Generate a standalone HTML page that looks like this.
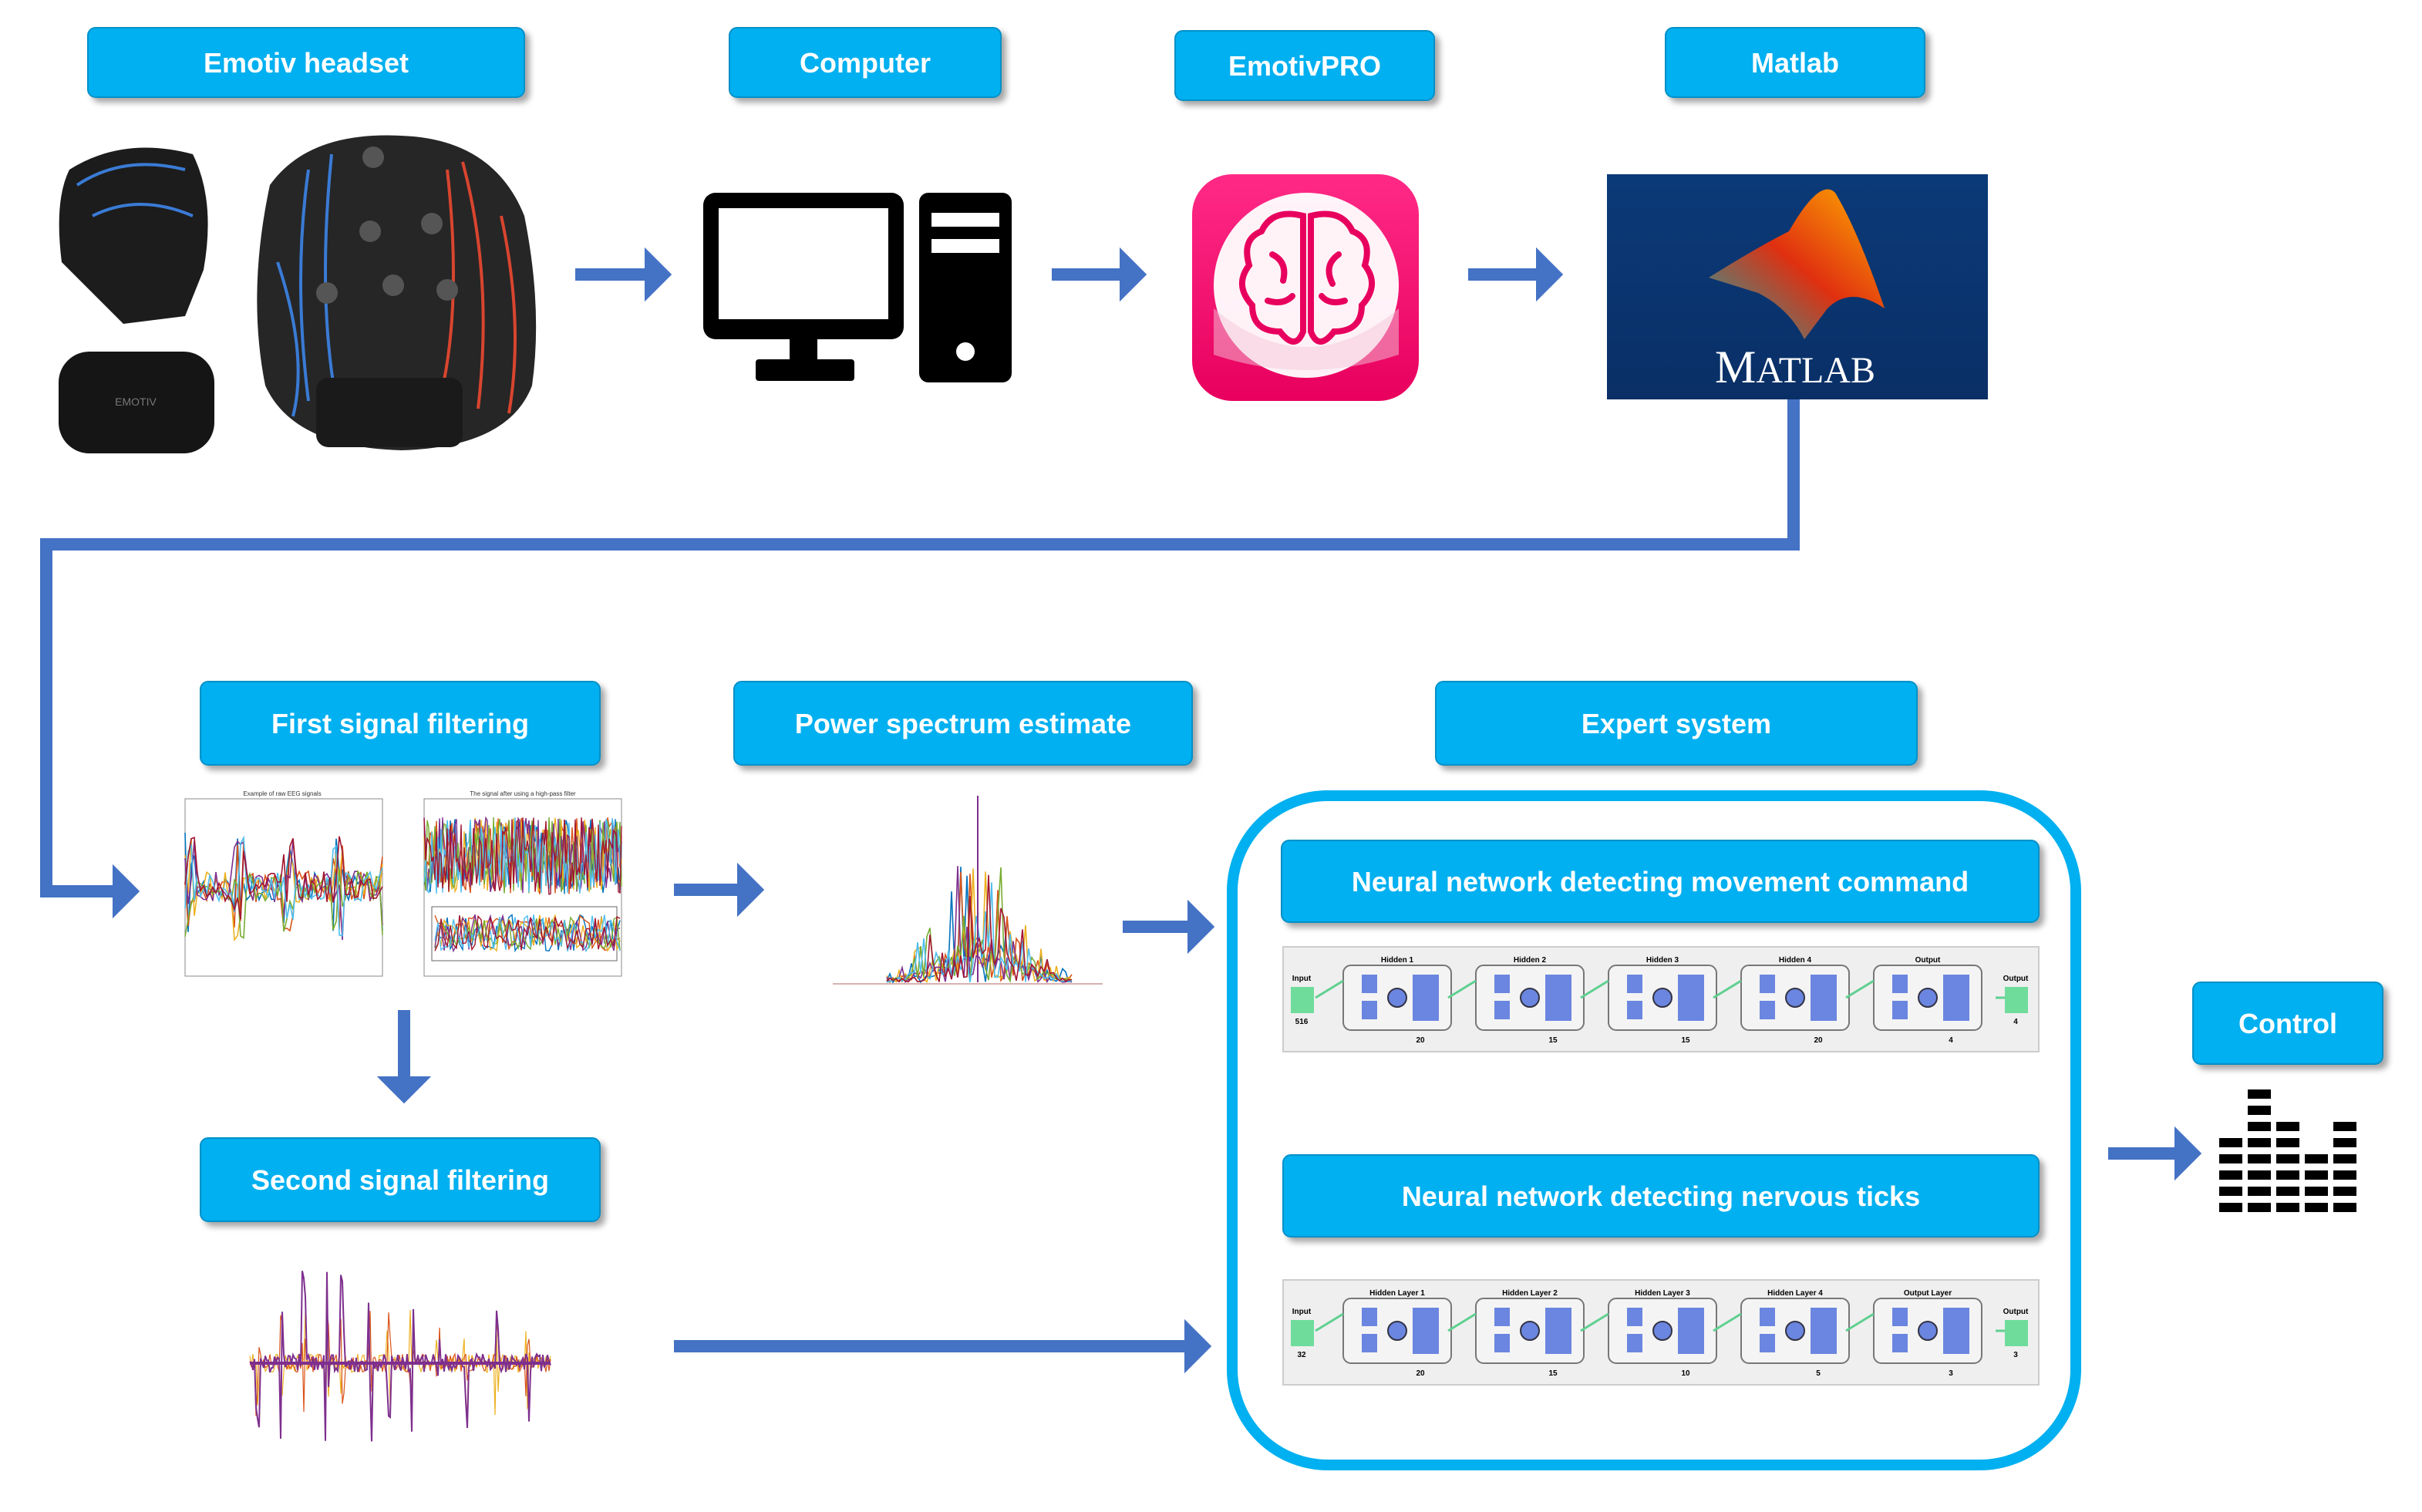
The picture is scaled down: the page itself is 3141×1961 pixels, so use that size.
<!DOCTYPE html>
<html><head><meta charset="utf-8"><style>
html,body{margin:0;padding:0;background:#fff;width:3141px;height:1961px;overflow:hidden}
svg text{font-family:"Liberation Sans",sans-serif}
</style></head><body>
<svg id="s" width="3141" height="1961" viewBox="0 0 1570.5 980.5" xmlns="http://www.w3.org/2000/svg">
<defs>
<filter id="sh" x="-10%" y="-20%" width="130%" height="160%"><feDropShadow dx="3" dy="3" stdDeviation="2" flood-color="#000" flood-opacity="0.35"/></filter>
<linearGradient id="mb" x1="0" y1="0" x2="0" y2="1"><stop offset="0" stop-color="#0b3a78"/><stop offset="1" stop-color="#0a2f66"/></linearGradient>
<linearGradient id="pk" x1="0" y1="0" x2="0" y2="1"><stop offset="0" stop-color="#ff2a86"/><stop offset="1" stop-color="#e8005e"/></linearGradient>
<linearGradient id="ml" x1="0" y1="1" x2="1" y2="0"><stop offset="0" stop-color="#1fa0a0"/><stop offset="0.5" stop-color="#e03010"/><stop offset="1" stop-color="#ffb000"/></linearGradient>
<marker id="ah" markerWidth="4" markerHeight="4.4" refX="0.5" refY="2.2" orient="auto" markerUnits="strokeWidth"><path d="M0,0 L2.2,2.2 L0,4.4 Z" fill="#4472c4"/></marker>
</defs>
<g id="boxes" font-size="18" font-weight="bold" fill="#fff" text-anchor="middle"></g>
<g stroke="#4472c4" stroke-width="8" fill="none">
<line x1="373" y1="178" x2="422" y2="178" marker-end="url(#ah)"/>
<line x1="682" y1="178" x2="730" y2="178" marker-end="url(#ah)"/>
<line x1="952" y1="178" x2="1000" y2="178" marker-end="url(#ah)"/>
<polyline points="1163,259 1163,353 30,353 30,578 77,578" marker-end="url(#ah)"/>
<line x1="437" y1="577" x2="482" y2="577" marker-end="url(#ah)"/>
<line x1="262" y1="655" x2="262" y2="702" marker-end="url(#ah)"/>
<line x1="728" y1="601" x2="774" y2="601" marker-end="url(#ah)"/>
<line x1="437" y1="873" x2="772" y2="873" marker-end="url(#ah)"/>
<line x1="1367" y1="748" x2="1414" y2="748" marker-end="url(#ah)"/>
</g>
<g>
<path d="M45,110 Q80,88 125,100 Q140,130 132,175 L120,205 L80,210 L60,190 L40,170 Q35,130 45,110Z" fill="#1c1c1c"/>
<path d="M50,120 Q80,100 120,110 M60,140 Q90,125 125,140" stroke="#3a7bd5" stroke-width="2" fill="none"/>
<rect x="38" y="228" width="101" height="66" rx="20" fill="#151515"/>
<text x="88" y="263" font-size="7" fill="#777" text-anchor="middle">EMOTIV</text>
<path d="M175,120 Q200,85 260,88 Q320,90 340,140 Q352,200 345,250 Q330,290 260,292 Q190,290 172,250 Q160,190 175,120Z" fill="#262626"/>
<path d="M200,110 Q190,180 200,260 M215,100 Q205,200 220,270 M180,170 Q200,230 190,270" stroke="#3a7bd5" stroke-width="2" fill="none"/>
<path d="M300,105 Q320,180 310,265 M290,110 Q300,200 285,260 M325,140 Q340,210 330,268" stroke="#d9452f" stroke-width="2" fill="none"/>
<rect x="205" y="245" width="95" height="45" rx="8" fill="#1a1a1a"/>
<g fill="#555"><circle cx="242" cy="102" r="7"/><circle cx="212" cy="190" r="7"/><circle cx="255" cy="185" r="7"/><circle cx="290" cy="188" r="7"/><circle cx="240" cy="150" r="7"/><circle cx="280" cy="145" r="7"/></g>
</g>
<g fill="#000">
<rect x="456" y="125" width="130" height="95" rx="8"/><rect x="466" y="135" width="110" height="72" fill="#fff"/>
<rect x="512" y="220" width="18" height="15"/><rect x="490" y="233" width="64" height="14" rx="2"/>
<rect x="596" y="125" width="60" height="123" rx="6"/>
<rect x="604" y="138" width="44" height="9" fill="#fff"/><rect x="604" y="155" width="44" height="9" fill="#fff"/>
<circle cx="626" cy="228" r="6" fill="#fff"/>
</g>
<rect x="773" y="113" width="147" height="147" rx="26" fill="url(#pk)"/>
<circle cx="847" cy="185" r="60" fill="#fff" opacity="0.95"/>
<path d="M787,200 Q847,250 907,200 L907,230 Q847,250 787,230Z" fill="#f4c6d8" opacity="0.5"/>
<g fill="none" stroke="#e8005e" stroke-width="4" stroke-linecap="round">
<path d="M845,140 Q825,135 818,150 Q805,155 810,172 Q800,185 812,198 Q812,215 830,215 Q840,228 845,215 Z"/>
<path d="M850,140 Q870,135 877,150 Q890,155 885,172 Q895,185 883,198 Q883,215 865,215 Q855,228 850,215 Z"/>
<path d="M825,165 Q835,170 832,182 M868,165 Q858,172 864,184 M822,195 Q832,198 838,192 M872,195 Q862,198 857,192"/>
</g>
<rect x="1042" y="113" width="247" height="146" fill="url(#mb)"/>
<path d="M1108,180 Q1140,160 1160,150 Q1180,115 1190,125 Q1205,150 1222,200 Q1200,185 1185,200 L1170,220 Q1160,200 1140,190 Z" fill="url(#ml)"/>
<text x="1164" y="248" font-size="30" fill="#fff" text-anchor="middle" style="font-family:'Liberation Serif',serif">M<tspan font-size="24">ATLAB</tspan></text>
<g id="plots"></g>
<rect x="799" y="516" width="547" height="434" rx="62" fill="none" stroke="#00b0f0" stroke-width="7"/>
<g id="nn"></g>
<g id="eq" fill="#000"></g>
</svg>
<script>
const NS="http://www.w3.org/2000/svg";
function el(t,a,p,txt){const e=document.createElementNS(NS,t);for(const k in a)e.setAttribute(k,a[k]);if(txt!==undefined)e.textContent=txt;(p||document.getElementById('s')).appendChild(e);return e;}
const B=document.getElementById('boxes');
[[57,18,283,45,"Emotiv headset"],[473,18,176,45,"Computer"],[762,20,168,45,"EmotivPRO"],[1080,18,168,45,"Matlab"],
[130,442,259,54,"First signal filtering"],[476,442,297,54,"Power spectrum estimate"],[931,442,312,54,"Expert system"],
[130,738,259,54,"Second signal filtering"],[831,545,491,53,"Neural network detecting movement command"],
[832,749,490,53,"Neural network detecting nervous ticks"],[1422,637,123,53,"Control"]].forEach(b=>{
 el('rect',{x:b[0],y:b[1],width:b[2],height:b[3],rx:5,fill:'#00b0f0',stroke:'#0090c8','stroke-width':1,filter:'url(#sh)'},B);
 el('text',{x:b[0]+b[2]/2,y:b[1]+b[3]/2+6.5},B,b[4]);
});
let seed=7;function r(){seed=(seed*16807)%2147483647;return seed/2147483647;}
const P=document.getElementById('plots');
const cols=['#0072bd','#d95319','#edb120','#7e2f8e','#77ac30','#4dbeee','#a2142f'];
function axes(x,y,w,h){el('rect',{x:x,y:y,width:w,height:h,fill:'#fff',stroke:'#888','stroke-width':0.5},P);}
axes(120,518,128,115);
cols.forEach((c,i)=>{let d='';for(let k=0;k<=64;k++){const xx=120+k*2;const amp=(k%16<4?35:10)*(r()-0.5)*2;d+=(k?'L':'M')+xx+','+(575+amp);}el('path',{d:d,stroke:c,'stroke-width':0.8,fill:'none'},P);});
axes(275,518,128,115);
cols.forEach((c,i)=>{let d='';for(let k=0;k<=128;k++){const xx=275+k;d+=(k?'L':'M')+xx+','+(555+25*(r()-0.5)*2);}el('path',{d:d,stroke:c,'stroke-width':0.7,fill:'none'},P);});
el('rect',{x:280,y:588,width:120,height:35,fill:'#fff',stroke:'#666','stroke-width':0.5},P);
cols.forEach((c,i)=>{let d='';for(let k=0;k<=60;k++){const xx=282+k*2;d+=(k?'L':'M')+xx+','+(605+12*(r()-0.5)*2);}el('path',{d:d,stroke:c,'stroke-width':0.7,fill:'none'},P);});
el('text',{x:183,y:516,'font-size':4,'text-anchor':'middle',fill:'#333'},P,'Example of raw EEG signals');
el('text',{x:339,y:516,'font-size':4,'text-anchor':'middle',fill:'#333'},P,'The signal after using a high-pass filter');
el('line',{x1:540,y1:638,x2:715,y2:638,stroke:'#c99','stroke-width':0.8},P);
cols.forEach((c,i)=>{let d='';for(let k=0;k<=60;k++){const xx=575+k*2;const cen=Math.exp(-Math.pow((k-30)/18,2));const v=cen*(r()<0.25?90*r():30*r());d+=(k?'L':'M')+xx+','+(637-v);}el('path',{d:d,stroke:c,'stroke-width':0.8,fill:'none'},P);});
el('line',{x1:634,y1:637,x2:634,y2:516,stroke:'#7e2f8e','stroke-width':1},P);
['#edb120','#d95319','#7e2f8e'].forEach((c,i)=>{let d='';for(let k=0;k<=195;k++){const xx=162+k;const big=[5,20,35,50,60,78,90,105,122,140,160,180].some(p=>Math.abs(k-p)<2);const v=(big?(i==2?65:35):6)*(r()-0.5)*2;d+=(k?'L':'M')+xx+','+(884+v);}el('path',{d:d,stroke:c,'stroke-width':i==2?1:0.6,fill:'none'},P);});
el('line',{x1:162,y1:884,x2:357,y2:884,stroke:'#7e2f8e','stroke-width':2},P);
const N=document.getElementById('nn');
function nn(y0,labels,nums,inp,outTxt){
 el('rect',{x:832,y:y0,width:490,height:68,fill:'#efefef',stroke:'#ccc','stroke-width':1},N);
 el('rect',{x:837,y:y0+26,width:15,height:17,fill:'#6fdc9c'},N);
 el('text',{x:844,y:y0+22,'font-size':5,'font-weight':'bold','text-anchor':'middle'},N,'Input');
 el('text',{x:844,y:y0+50,'font-size':5,'font-weight':'bold','text-anchor':'middle'},N,inp);
 el('rect',{x:1300,y:y0+26,width:15,height:17,fill:'#6fdc9c'},N);
 el('text',{x:1307,y:y0+22,'font-size':5,'font-weight':'bold','text-anchor':'middle'},N,'Output');
 el('text',{x:1307,y:y0+50,'font-size':5,'font-weight':'bold','text-anchor':'middle'},N,outTxt);
 for(let i=0;i<5;i++){const x=871+i*86;
  el('rect',{x:x,y:y0+12,width:70,height:42,rx:5,fill:'#f4f4f4',stroke:'#777','stroke-width':1},N);
  el('text',{x:x+35,y:y0+10,'font-size':5,'font-weight':'bold','text-anchor':'middle'},N,labels[i]);
  el('text',{x:x+50,y:y0+62,'font-size':5,'font-weight':'bold','text-anchor':'middle'},N,nums[i]);
  el('rect',{x:x+12,y:y0+18,width:10,height:12,fill:'#6b86e0'},N);
  el('rect',{x:x+12,y:y0+35,width:10,height:12,fill:'#6b86e0'},N);
  el('circle',{cx:x+35,cy:y0+33,r:6,fill:'#6b86e0',stroke:'#334'},N);
  el('rect',{x:x+45,y:y0+18,width:17,height:30,fill:'#6b86e0'},N);
  el('line',{x1:x-18,y1:y0+33,x2:x,y2:y0+22,stroke:'#5fd090','stroke-width':1.5},N);
 }
 el('line',{x1:1294,y1:y0+33,x2:1300,y2:y0+33,stroke:'#5fd090','stroke-width':1.5},N);
}
nn(614,['Hidden 1','Hidden 2','Hidden 3','Hidden 4','Output'],['20','15','15','20','4'],'516','4');
nn(830,['Hidden Layer 1','Hidden Layer 2','Hidden Layer 3','Hidden Layer 4','Output Layer'],['20','15','10','5','3'],'32','3');
const E=document.getElementById('eq');
const hts=[5,8,6,4,6];
hts.forEach((h,i)=>{for(let j=0;j<h;j++){el('rect',{x:1439+i*18.5,y:780-j*10.5,width:15,height:6},E);}});
</script>
</body></html>
